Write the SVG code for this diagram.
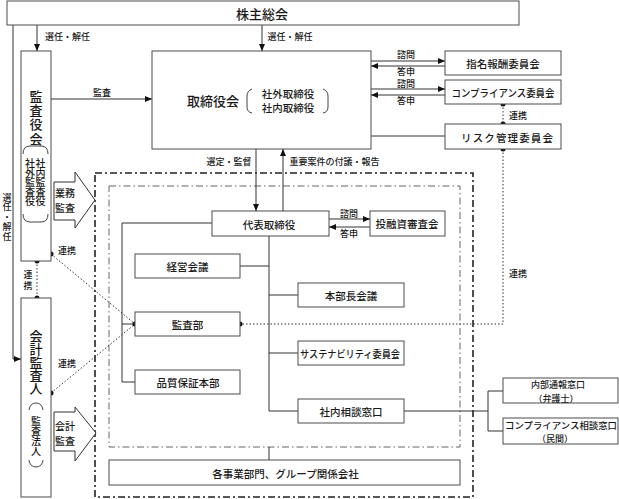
<svg xmlns="http://www.w3.org/2000/svg" width="619" height="499" viewBox="0 0 619 499">
<style>
.box{fill:#fff;stroke:#4d4d4d;stroke-width:1}
.ln{fill:none;stroke:#333;stroke-width:1}
.dt{fill:none;stroke:#333;stroke-width:1;stroke-dasharray:1.5 2}
.br{fill:none;stroke:#444;stroke-width:1}
.t{font-family:"Noto Sans CJK JP","Noto Sans CJK SC",sans-serif;fill:#1a1a1a;text-anchor:middle;dominant-baseline:central;font-size:10.5px;font-weight:500}
.s{font-size:9px}
.v{writing-mode:vertical-rl}
.dot{fill:#111}
.blk{fill:#fff;stroke:#333;stroke-width:1}
</style>
<defs>
<marker id="ah" markerUnits="userSpaceOnUse" markerWidth="7" markerHeight="6" refX="7" refY="3" orient="auto">
<path d="M0,0 L7,3 L0,6 z" fill="#111"/>
</marker>
</defs>
<rect width="619" height="499" fill="#fff"/>

<!-- frames -->
<rect x="95" y="173" width="378" height="324" fill="none" stroke="#222" stroke-width="1.6" stroke-dasharray="7 3 2 3"/>
<rect x="109" y="186" width="351" height="261" fill="none" stroke="#666" stroke-width="1" stroke-dasharray="7 3 1.5 3"/>

<g id="connectors">
<polyline class="ln" points="13,25 13,359 21,359" marker-end="url(#ah)"/>
<line class="ln" x1="37" y1="25" x2="37" y2="51" marker-end="url(#ah)"/>
<line class="ln" x1="262" y1="25" x2="262" y2="51" marker-end="url(#ah)"/>
<line class="ln" x1="51" y1="99" x2="152" y2="99" marker-end="url(#ah)"/>
<line class="ln" x1="371" y1="61" x2="445" y2="61" marker-end="url(#ah)"/>
<line class="ln" x1="445" y1="66" x2="371" y2="66" marker-end="url(#ah)"/>
<line class="ln" x1="371" y1="89" x2="445" y2="89" marker-end="url(#ah)"/>
<line class="ln" x1="445" y1="95" x2="371" y2="95" marker-end="url(#ah)"/>
<line class="ln" x1="371" y1="136" x2="445" y2="136"/>
<line class="dt" x1="503" y1="104" x2="503" y2="124"/>
<polyline class="dt" points="503,149 503,324 240,324"/>
<line class="ln" x1="256" y1="149" x2="256" y2="211" marker-end="url(#ah)"/>
<line class="ln" x1="283" y1="211" x2="283" y2="149" marker-end="url(#ah)"/>
<line class="ln" x1="329" y1="219" x2="370" y2="219" marker-end="url(#ah)"/>
<line class="ln" x1="370" y1="227" x2="329" y2="227" marker-end="url(#ah)"/>
<polyline class="ln" points="212,223 122,223 122,382 135,382"/>
<line class="ln" x1="122" y1="324" x2="135" y2="324"/>
<line class="ln" x1="269" y1="236" x2="269" y2="411"/>
<line class="ln" x1="240" y1="266" x2="269" y2="266"/>
<line class="ln" x1="269" y1="295" x2="298" y2="295"/>
<line class="ln" x1="269" y1="353" x2="298" y2="353"/>
<line class="ln" x1="269" y1="411" x2="298" y2="411"/>
<line class="ln" x1="269" y1="447" x2="269" y2="460"/>
<line class="ln" x1="404" y1="411" x2="488" y2="411"/>
<polyline class="ln" points="503,391 488,391 488,431 503,431"/>
<line class="dt" x1="37" y1="261" x2="37" y2="298"/>
<line class="dt" x1="51" y1="254" x2="135" y2="324"/>
<line class="dt" x1="51" y1="393" x2="135" y2="324"/>
<polygon class="blk" points="54,182 75,182 75,172 95,200 75,228 75,220 54,220"/>
<polygon class="blk" points="54,412 75,412 75,407 96,433 75,461 75,451 54,451"/>
<circle class="dot" cx="503" cy="104" r="2.5"/>
<circle class="dot" cx="503" cy="124" r="2.5"/>
<circle class="dot" cx="503" cy="149" r="2.5"/>
<circle class="dot" cx="240" cy="324" r="2.5"/>
<circle class="dot" cx="135" cy="324" r="2.5"/>
<circle class="dot" cx="37" cy="261" r="2.5"/>
<circle class="dot" cx="37" cy="298" r="2.5"/>
<circle class="dot" cx="51" cy="254" r="2.5"/>
<circle class="dot" cx="51" cy="393" r="2.5"/>
<text class="t s" x="67.5" y="36">選任・解任</text>
<text class="t s" x="290" y="36">選任・解任</text>
<text class="t s v" x="7" y="217" style="letter-spacing:0.75px">選任・解任</text>
<text class="t s" x="102" y="92">監査</text>
<text class="t s" x="406" y="54">諮問</text>
<text class="t s" x="406" y="71">答申</text>
<text class="t s" x="406" y="83">諮問</text>
<text class="t s" x="406" y="100">答申</text>
<text class="t s" x="518" y="115">連携</text>
<text class="t s" x="229" y="161">選定・監督</text>
<text class="t s" x="334.5" y="161">重要案件の付議・報告</text>
<text class="t s" x="349" y="213">諮問</text>
<text class="t s" x="349" y="233">答申</text>
<text class="t s" x="518" y="273">連携</text>
<text class="t s" x="67" y="250">連携</text>
<text class="t s" x="67" y="363">連携</text>
<text class="t s v" x="28" y="281" style="letter-spacing:2px">連携</text>
<text class="t" style="font-size:10px"><tspan x="65" y="192">業務</tspan><tspan x="65" y="207">監査</tspan></text>
<text class="t" style="font-size:10px"><tspan x="65" y="425">会計</tspan><tspan x="65" y="440">監査</tspan></text>
</g>

<g id="shareholders">
<rect class="box" x="7" y="1" width="512" height="24"/>
<text class="t" x="262" y="13" style="font-size:13px">株主総会</text>
</g>

<g id="board">
<rect class="box" x="152" y="51" width="219" height="98"/>
<text class="t" x="213" y="100" style="font-size:13px">取締役会</text>
<path class="br" d="M252,89 Q247,91 247,96 L247,107 Q247,112 252,113"/>
<path class="br" d="M323,89 Q328,91 328,96 L328,107 Q328,112 323,113"/>
<text class="t"><tspan x="288" y="93">社外取締役</tspan><tspan x="288" y="107">社内取締役</tspan></text>
</g>

<g id="audit-board">
<rect class="box" x="21" y="51" width="30" height="210"/>
<text class="t v" x="36" y="118" style="font-size:13px;letter-spacing:1.3px">監査役会</text>
<path class="br" d="M23,154 Q23,146 30,146 L41,146 Q48,146 48,154"/>
<path class="br" d="M23,214 Q23,222 30,222 L41,222 Q48,222 48,214"/>
<text class="t v" x="30" y="182" style="font-size:10px;letter-spacing:-0.5px">社外監査役</text>
<text class="t v" x="40.5" y="182" style="font-size:10px;letter-spacing:-0.5px">社内監査役</text>
</g>

<g id="accounting-auditor">
<rect class="box" x="21" y="298" width="30" height="199"/>
<text class="t v" x="36" y="362" style="font-size:13px">会計監査人</text>
<path class="br" d="M29,410 Q30,403 36,403 Q42,403 43,410"/>
<path class="br" d="M29,460 Q30,467 36,467 Q42,467 43,460"/>
<text class="t v" x="36" y="436" style="font-size:10px">監査法人</text>
</g>

<g id="nomination-committee">
<rect class="box" x="445" y="51" width="116" height="24"/>
<text class="t" x="503" y="63">指名報酬委員会</text>
</g>
<g id="compliance-committee">
<rect class="box" x="445" y="80" width="116" height="24"/>
<text class="t" x="503" y="92" textLength="103" lengthAdjust="spacingAndGlyphs">コンプライアンス委員会</text>
</g>
<g id="risk-committee">
<rect class="box" x="445" y="124" width="116" height="25"/>
<text class="t" x="507" y="137" textLength="92" lengthAdjust="spacing">リスク管理委員会</text>
</g>

<g id="representative-director">
<rect class="box" x="212" y="211" width="117" height="25"/>
<text class="t" x="269" y="224">代表取締役</text>
</g>
<g id="investment-committee">
<rect class="box" x="370" y="211" width="75" height="25"/>
<text class="t" x="407" y="223">投融資審査会</text>
</g>
<g id="management-meeting">
<rect class="box" x="135" y="254" width="105" height="24"/>
<text class="t" x="187.5" y="266">経営会議</text>
</g>
<g id="internal-audit">
<rect class="box" x="135" y="312" width="105" height="24"/>
<text class="t" x="187.5" y="324">監査部</text>
</g>
<g id="quality-assurance">
<rect class="box" x="135" y="370" width="105" height="24"/>
<text class="t" x="188" y="382">品質保証本部</text>
</g>
<g id="division-heads">
<rect class="box" x="298" y="283" width="106" height="24"/>
<text class="t" x="351" y="295">本部長会議</text>
</g>
<g id="sustainability">
<rect class="box" x="298" y="341" width="106" height="24"/>
<text class="t" x="350" y="353" textLength="100" lengthAdjust="spacingAndGlyphs">サステナビリティ委員会</text>
</g>
<g id="internal-consultation">
<rect class="box" x="298" y="399" width="106" height="24"/>
<text class="t" x="351" y="411">社内相談窓口</text>
</g>
<g id="whistleblowing">
<rect class="box" x="503" y="378" width="115" height="25"/>
<text class="t" style="font-size:9px"><tspan x="558" y="384">内部通報窓口</tspan><tspan x="556" y="397.5">（弁護士）</tspan></text>
</g>
<g id="compliance-desk">
<rect class="box" x="503" y="418" width="115" height="26"/>
<text class="t" style="font-size:9px"><tspan x="561" y="424.5" textLength="112" lengthAdjust="spacingAndGlyphs">コンプライアンス相談窓口</tspan><tspan x="555" y="438">（民間）</tspan></text>
</g>
<g id="business-units">
<rect class="box" x="109" y="460" width="351" height="25"/>
<text class="t" x="285.5" y="473">各事業部門、グループ関係会社</text>
</g>
</svg>
